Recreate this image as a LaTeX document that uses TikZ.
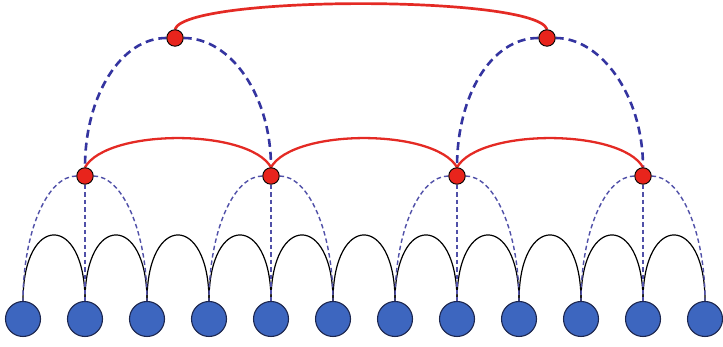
\documentclass[tikz,border=0pt]{standalone}
\usetikzlibrary{backgrounds}
\definecolor{leafblue}{RGB}{61,102,191}
\definecolor{leafedge}{RGB}{28,38,78}
\definecolor{hubred}{RGB}{232,36,28}
\definecolor{linkred}{RGB}{228,42,36}
\definecolor{dashblue}{RGB}{80,80,168}
\definecolor{dashnavy}{RGB}{52,52,160}
\begin{document}
\begin{tikzpicture}[x=1pt,y=1pt,
  leaf/.style={circle,draw=leafedge,line width=1.1pt,fill=leafblue,minimum size=35pt,inner sep=0pt},
  hub/.style={circle,draw=black,line width=0.9pt,fill=hubred,minimum size=16.5pt,inner sep=0pt},
  chain/.style={draw=black,line width=1.2pt},
  thinlink/.style={draw=dashblue,line width=1.4pt,dash pattern=on 4.5pt off 3pt},
  thicklink/.style={draw=dashnavy,line width=2.6pt,dash pattern=on 8pt off 5pt},
  redlink/.style={draw=linkred,line width=2.3pt},
  toplink/.style={draw=linkred,line width=2.7pt}]
\useasboundingbox (0,0) rectangle (723,347);

% bottom row
\foreach \i in {0,...,11}
  \node[leaf] (b\i) at ({23+62*\i},28) {};

% middle hubs
\node[hub] (m0) at (85,171) {};
\node[hub] (m1) at (271,171) {};
\node[hub] (m2) at (457,171) {};
\node[hub] (m3) at (643,171) {};

% top hubs
\node[hub] (t0) at (175,309) {};
\node[hub] (t1) at (547,309) {};

\begin{scope}[on background layer]
  % neighbour arcs along the bottom row
  \foreach \i in {0,...,10}{
    \pgfmathtruncatemacro\j{\i+1}
    \draw[chain] (b\i) to[out=90,in=90,distance=88pt] (b\j);
  }
  % each middle hub reaches three leaves
  \foreach \k in {0,...,3}{
    \pgfmathtruncatemacro\c{3*\k+1}
    \pgfmathtruncatemacro\l{3*\k}
    \pgfmathtruncatemacro\r{3*\k+2}
    \draw[thinlink] (m\k) to[out=180,in=90,out distance=29pt,in distance=69pt] (b\l);
    \draw[thinlink] (m\k) -- (b\c);
    \draw[thinlink] (m\k) to[out=0,in=90,out distance=29pt,in distance=69pt] (b\r);
  }
  % top hubs reach two middle hubs
  \draw[thicklink] (t0) to[out=180,in=90,out distance=45pt,in distance=72pt] (m0);
  \draw[thicklink] (t0) to[out=0,in=90,out distance=47pt,in distance=72pt] (m1);
  \draw[thicklink] (t1) to[out=180,in=90,out distance=47pt,in distance=72pt] (m2);
  \draw[thicklink] (t1) to[out=0,in=90,out distance=45pt,in distance=72pt] (m3);
  % links between hubs
  \draw[redlink] (m0.north) to[out=60,in=120,distance=45pt] (m1.north);
  \draw[redlink] (m1.north) to[out=60,in=120,distance=45pt] (m2.north);
  \draw[redlink] (m2.north) to[out=60,in=120,distance=45pt] (m3.north);
  \draw[toplink] (t0.north) to[out=72,in=108,distance=36pt] (t1.north);
\end{scope}
\end{tikzpicture}
\end{document}
